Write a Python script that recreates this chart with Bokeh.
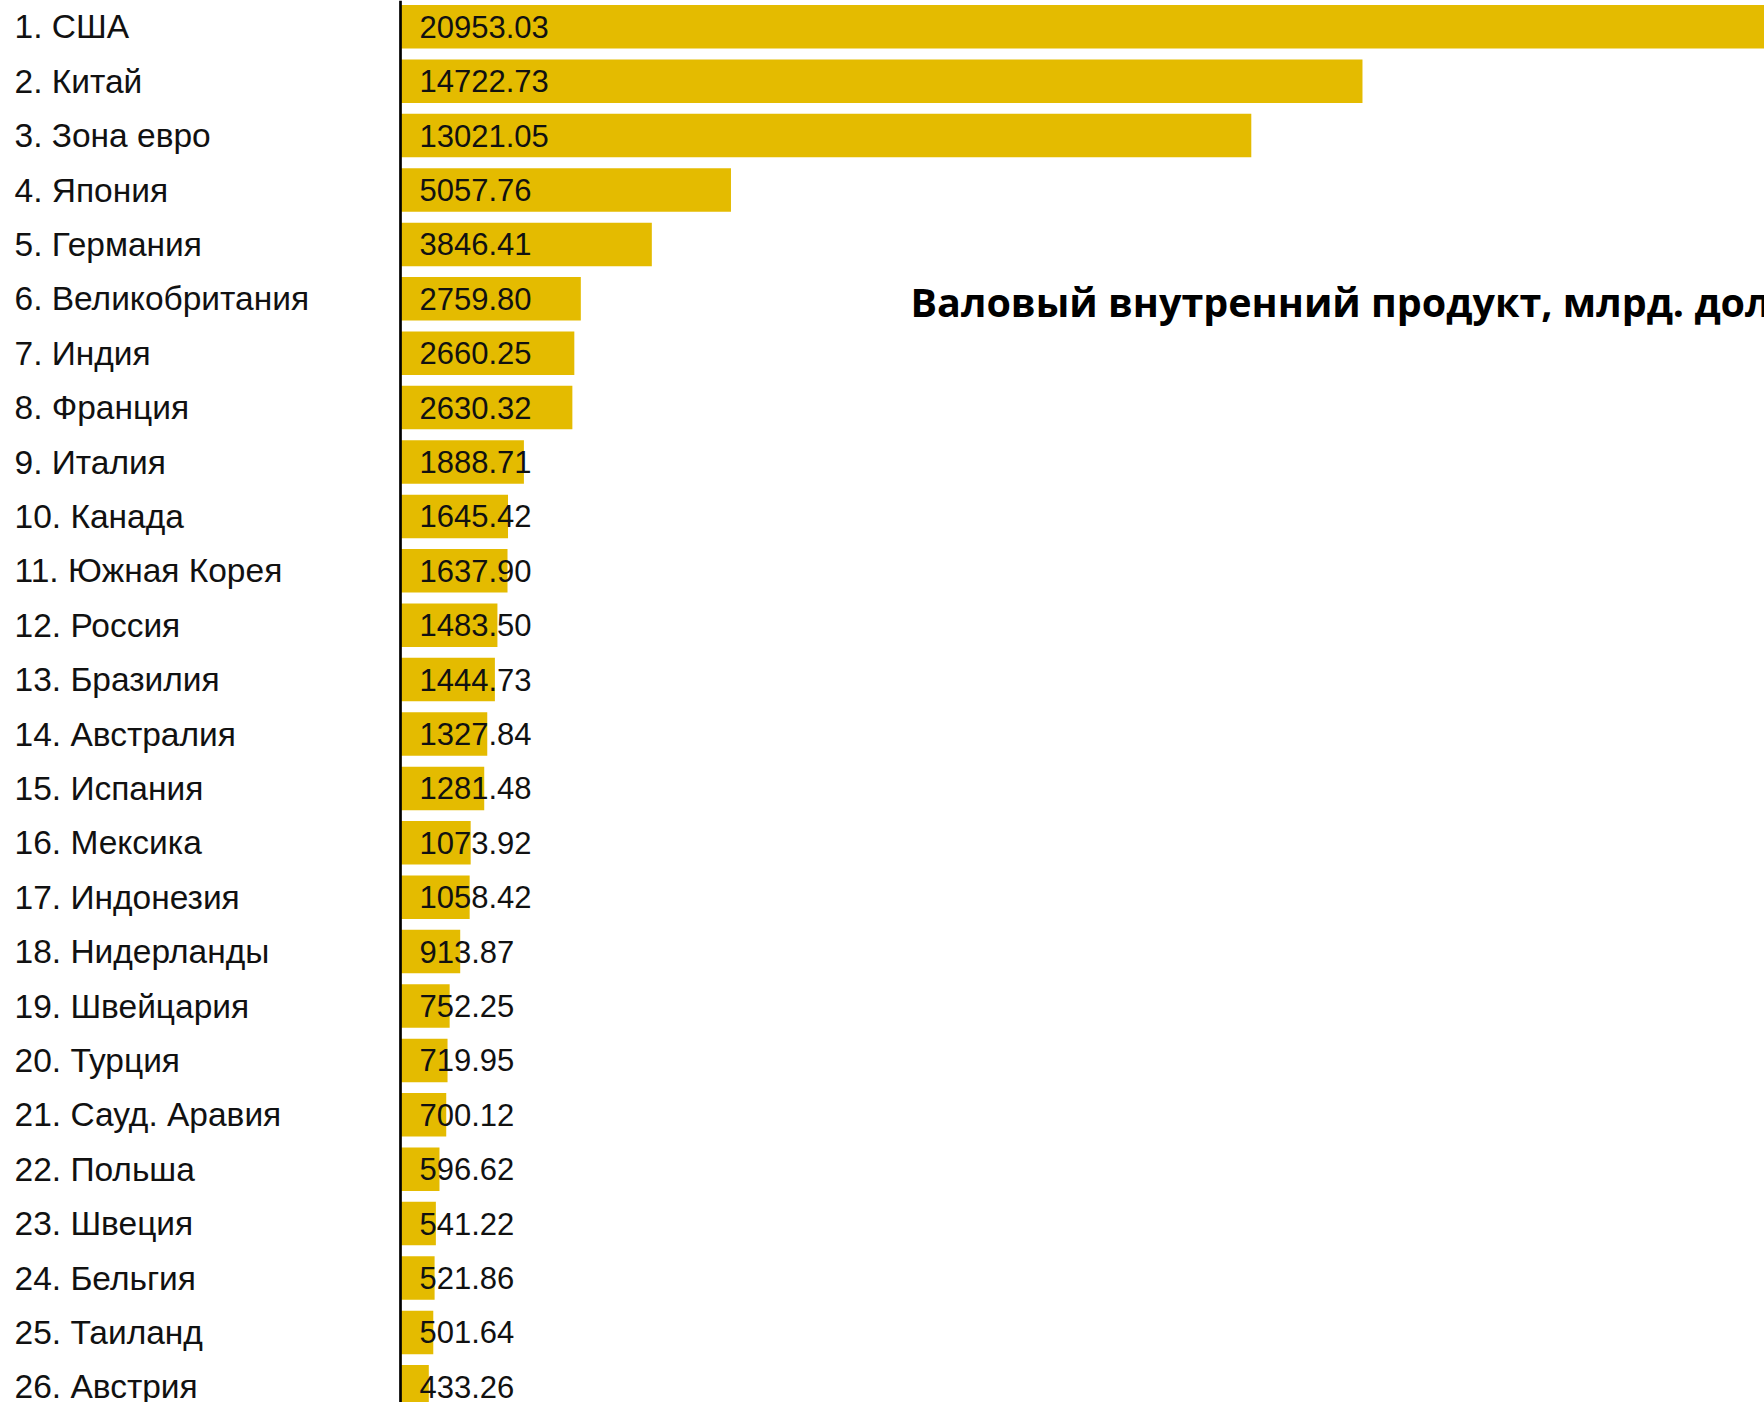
from bokeh.plotting import figure
from bokeh.models import ColumnDataSource, LabelSet, Label, Range1d, Span
from bokeh.core.properties import value
from bokeh.embed import file_html
from bokeh.resources import INLINE

countries = ["США", "Китай", "Зона евро", "Япония", "Германия", "Великобритания",
             "Индия", "Франция", "Италия", "Канада", "Южная Корея", "Россия",
             "Бразилия", "Австралия", "Испания", "Мексика", "Индонезия",
             "Нидерланды", "Швейцария", "Турция", "Сауд. Аравия", "Польша",
             "Швеция", "Бельгия", "Таиланд", "Австрия"]
gdp = [20953.03, 14722.73, 13021.05, 5057.76, 3846.41, 2759.80, 2660.25, 2630.32,
       1888.71, 1645.42, 1637.90, 1483.50, 1444.73, 1327.84, 1281.48, 1073.92,
       1058.42, 913.87, 752.25, 719.95, 700.12, 596.62, 541.22, 521.86, 501.64,
       433.26]
title_text = "Валовый внутренний продукт, млрд. долларов США"

W, H = 1764, 1402
zero_px = 400          # canvas x of value 0
px_per_unit = 0.06534
row_px = 54.4
first_row_px = 26.3

x_start = -zero_px / px_per_unit
x_end = (W - zero_px) / px_per_unit
y_top = -first_row_px / row_px
y_bottom = (H - first_row_px) / row_px

src = ColumnDataSource(dict(
    idx=list(range(len(countries))),
    gdp=gdp,
    name=[f"{i + 1}. {c}" for i, c in enumerate(countries)],
    val=[f"{v:.2f}" for v in gdp],
    zero=[0] * len(gdp),
))

p = figure(width=W, height=H, output_backend="svg", toolbar_location=None,
           x_range=Range1d(x_start, x_end), y_range=Range1d(y_bottom, y_top),
           min_border=0, min_border_left=0, min_border_right=0,
           min_border_top=0, min_border_bottom=0)
p.axis.visible = False
p.grid.visible = False
p.outline_line_color = None
p.background_fill_color = "white"
p.border_fill_color = "white"

p.hbar(y="idx", left="zero", right="gdp", height=0.8, source=src,
       fill_color="#E4BB00", line_color=None)

p.add_layout(Span(location=0, dimension="height", line_color="black",
                  line_width=2.7))

names = LabelSet(x=14, x_units="screen", y="idx", text="name", source=src,
                 text_font=value("Liberation Sans"), text_font_size=value("33.5px"),
                 text_color="#111111", text_baseline="middle", text_align="left")
vals = LabelSet(x="zero", y="idx", text="val", source=src, x_offset=19,
                text_font=value("Liberation Sans"), text_font_size=value("31px"),
                text_color="#111111", text_baseline="middle", text_align="left")
p.add_layout(names)
p.add_layout(vals)

p.add_layout(Label(x=910, y=H - 301, x_units="screen", y_units="screen",
                   text=title_text, text_font="Open Sans", text_font_style="bold",
                   text_font_size="39.5px", text_color="black",
                   text_baseline="alphabetic", text_align="left"))

open("out.html", "w").write(file_html(p, INLINE))
